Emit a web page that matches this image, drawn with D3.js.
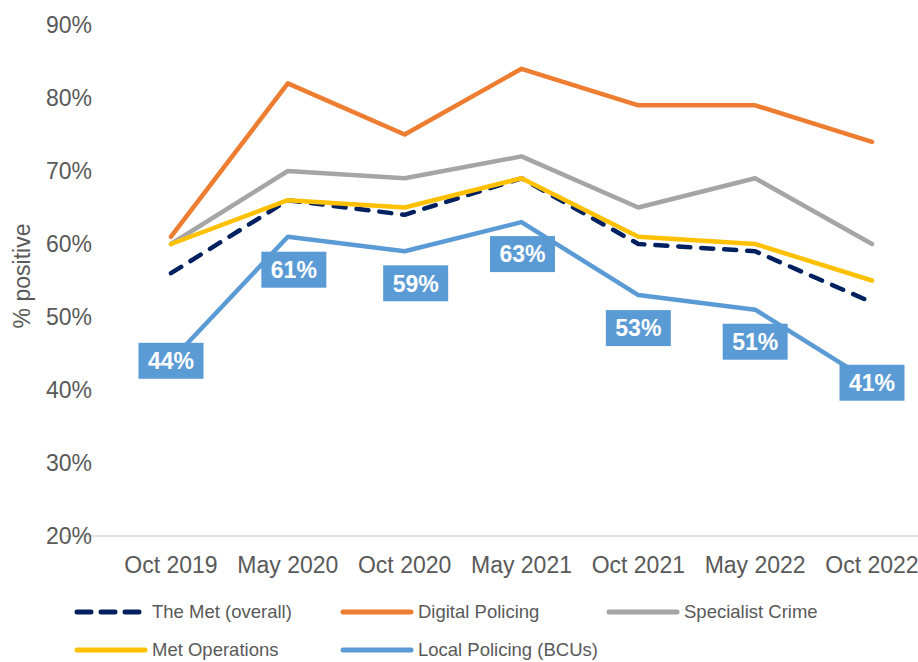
<!DOCTYPE html>
<html>
<head>
<meta charset="utf-8">
<script src="https://cdn.jsdelivr.net/npm/d3@7"></script>
<style>
  body { margin: 0; background: #fff; }
  svg { display: block; font-family: "Liberation Sans", Arial, sans-serif; }
</style>
</head>
<body>
<div id="chart"></div>
<script>
const width = 918;
const height = 662;

const periods = ["Oct 2019", "May 2020", "Oct 2020", "May 2021", "Oct 2021", "May 2022", "Oct 2022"];
const metOverall = [56, 66, 64, 69, 60, 59, 52];
const digitalPolicing = [61, 82, 75, 84, 79, 79, 74];
const specialistCrime = [60, 70, 69, 72, 65, 69, 60];
const metOperations = [60, 66, 65, 69, 61, 60, 55];
const localPolicing = [44, 61, 59, 63, 53, 51, 41];
const yTicks = [20, 30, 40, 50, 60, 70, 80, 90];

const series = [
  { name: "The Met (overall)", values: metOverall, color: "#002060", dashed: true },
  { name: "Digital Policing", values: digitalPolicing, color: "#ed7d31" },
  { name: "Specialist Crime", values: specialistCrime, color: "#a5a5a5" },
  { name: "Met Operations", values: metOperations, color: "#ffc000" },
  { name: "Local Policing (BCUs)", values: localPolicing, color: "#5b9bd5" },
];

// where the data label boxes for local policing sit relative to the point
const labelShift = [[0, 0], [6, 33], [11, 32], [1, 32], [0, 33], [0, 32], [0, 0]];

const svg = d3.select("#chart")
  .append("svg")
  .attr("width", width)
  .attr("height", height);

const x = d3.scalePoint().domain(periods).range([171, 872]);
const y = d3.scaleLinear().domain([20, 90]).range([536, 25]);

// baseline
svg.append("line")
  .attr("x1", 65).attr("x2", width)
  .attr("y1", y(20)).attr("y2", y(20))
  .attr("stroke", "#d9d9d9")
  .attr("stroke-width", 1.5);

// y labels
svg.append("g")
  .selectAll("text")
  .data(yTicks)
  .enter()
  .append("text")
  .attr("x", 92)
  .attr("y", (d) => y(d))
  .attr("dy", "0.35em")
  .attr("text-anchor", "end")
  .attr("font-size", 23)
  .attr("fill", "#595959")
  .text((d) => d + "%");

// x labels
svg.append("g")
  .selectAll("text")
  .data(periods)
  .enter()
  .append("text")
  .attr("x", (d) => x(d))
  .attr("y", 565)
  .attr("dy", "0.35em")
  .attr("text-anchor", "middle")
  .attr("font-size", 23)
  .attr("fill", "#595959")
  .text((d) => d);

// y axis title
svg.append("text")
  .attr("transform", "translate(22, 276) rotate(-90)")
  .attr("dy", "0.35em")
  .attr("text-anchor", "middle")
  .attr("font-size", 23)
  .attr("fill", "#595959")
  .text("% positive");

const line = d3.line()
  .x((d, i) => x(periods[i]))
  .y((d) => y(d));

svg.append("g")
  .selectAll("path")
  .data(series)
  .enter()
  .append("path")
  .attr("d", (d) => line(d.values))
  .attr("fill", "none")
  .attr("stroke", (d) => d.color)
  .attr("stroke-width", 4.5)
  .attr("stroke-linejoin", "round")
  .attr("stroke-linecap", "round")
  .attr("stroke-dasharray", (d) => (d.dashed ? "12,11" : null));

// data labels on local policing
const labels = svg.append("g")
  .selectAll("g")
  .data(localPolicing)
  .enter()
  .append("g")
  .attr("transform", (d, i) =>
    `translate(${x(periods[i]) + labelShift[i][0]}, ${y(d) + labelShift[i][1]})`);

labels.append("rect")
  .attr("x", -32.5)
  .attr("y", -18)
  .attr("width", 65)
  .attr("height", 36)
  .attr("fill", "#5b9bd5");

labels.append("text")
  .attr("text-anchor", "middle")
  .attr("dy", "0.36em")
  .attr("font-size", 23)
  .attr("font-weight", "bold")
  .attr("fill", "#fff")
  .text((d) => d + "%");

// legend
const legendPos = [[75, 612], [341, 612], [607, 612], [75, 650], [341, 650]];

const legend = svg.append("g")
  .selectAll("g")
  .data(series)
  .enter()
  .append("g")
  .attr("transform", (d, i) => `translate(${legendPos[i][0]}, ${legendPos[i][1]})`);

legend.append("line")
  .attr("x1", 2).attr("x2", 70)
  .attr("stroke", (d) => d.color)
  .attr("stroke-width", 5)
  .attr("stroke-linecap", "round")
  .attr("stroke-dasharray", (d) => (d.dashed ? "14,10" : null));

legend.append("text")
  .attr("x", 77)
  .attr("dy", "0.35em")
  .attr("font-size", 18.5)
  .attr("fill", "#595959")
  .text((d) => d.name);
</script>
</body>
</html>
